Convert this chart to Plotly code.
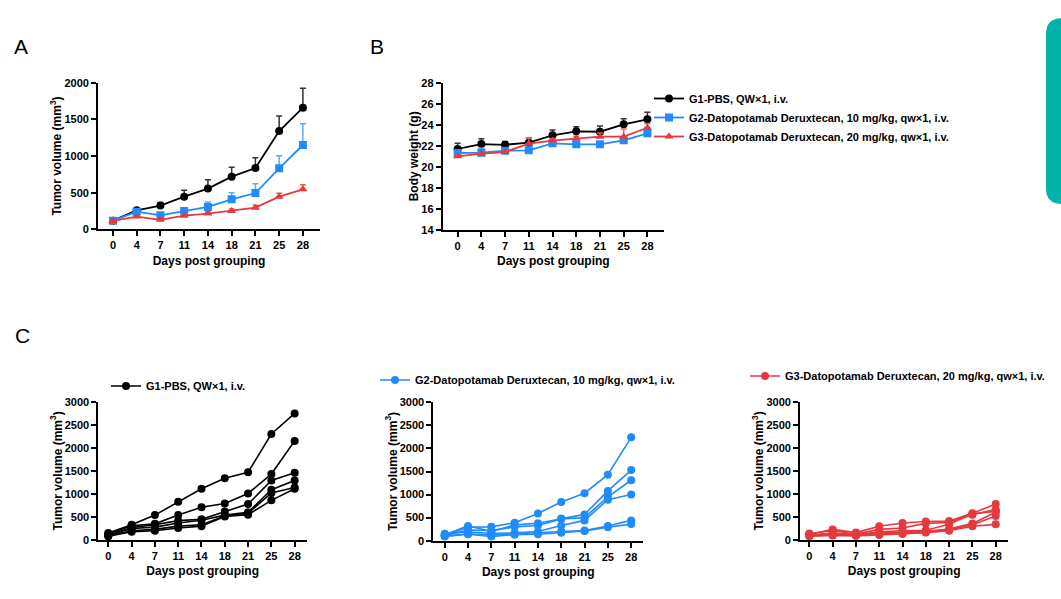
import plotly.graph_objects as go

W, H = 1061, 599

# ---------------- data ----------------
days = ["0", "4", "7", "11", "14", "18", "21", "25", "28"]

group_names = [
    "G1-PBS, QW×1, i.v.",
    "G2-Datopotamab Deruxtecan, 10 mg/kg, qw×1, i.v.",
    "G3-Datopotamab Deruxtecan, 20 mg/kg, qw×1, i.v.",
]

# Panel A: mean tumor volume and upper error (SEM)
tv_g1 = [118, 259, 323, 445, 555, 718, 836, 1341, 1659]
tv_g1_err = [10, 27, 41, 87, 122, 127, 141, 204, 264]
tv_g2 = [118, 241, 191, 250, 305, 409, 495, 832, 1150]
tv_g2_err = [8, 15, 14, 36, 68, 91, 128, 173, 291]
tv_g3 = [114, 173, 130, 186, 214, 250, 295, 445, 545]
tv_g3_err = [6, 12, 15, 18, 22, 28, 32, 46, 64]

# Panel B: mean body weight and upper error
bw_g1 = [21.70, 22.17, 22.10, 22.30, 23.00, 23.38, 23.34, 24.04, 24.52]
bw_g1_err = [0.54, 0.51, 0.30, 0.47, 0.50, 0.44, 0.54, 0.54, 0.66]
bw_g2 = [21.32, 21.35, 21.54, 21.57, 22.24, 22.14, 22.14, 22.52, 23.19]
bw_g2_err = [0.20, 0.41, 0.25, 0.20, 0.15, 0.15, 0.15, 0.15, 0.30]
bw_g3 = [21.00, 21.25, 21.41, 22.20, 22.50, 22.70, 22.87, 22.87, 23.72]
bw_g3_err = [0.15, 0.15, 0.20, 0.57, 0.20, 0.20, 0.35, 0.73, 0.40]

# Panel C: individual tumor volumes
c1_mice = [
    [150, 330, 540, 830, 1110, 1340, 1470, 2300, 2745],
    [130, 310, 350, 540, 710, 790, 1010, 1430, 2150],
    [100, 270, 330, 420, 450, 620, 780, 1290, 1460],
    [110, 250, 280, 370, 430, 540, 600, 1090, 1290],
    [90, 200, 230, 300, 330, 520, 580, 1020, 1140],
    [80, 180, 200, 260, 300, 510, 550, 860, 1110],
]
c2_mice = [
    [120, 290, 300, 390, 590, 840, 1030, 1430, 2240],
    [130, 320, 200, 340, 380, 480, 570, 1080, 1530],
    [110, 230, 220, 300, 330, 470, 500, 950, 1310],
    [150, 190, 160, 170, 200, 330, 440, 890, 1000],
    [100, 150, 120, 150, 170, 200, 220, 320, 440],
    [90, 140, 90, 130, 140, 170, 210, 290, 360],
]
c3_mice = [
    [120, 230, 160, 300, 370, 400, 410, 580, 780],
    [140, 200, 130, 230, 260, 360, 380, 550, 660],
    [110, 150, 120, 180, 200, 210, 340, 570, 620],
    [100, 130, 110, 150, 170, 190, 240, 360, 600],
    [90, 110, 100, 130, 150, 170, 220, 330, 520],
    [80, 100, 90, 110, 130, 160, 200, 300, 340],
]

tv_ticks = [0, 500, 1000, 1500, 2000]
bw_ticks = [14, 16, 18, 20, 22, 24, 26, 28]
c_ticks = [0, 500, 1000, 1500, 2000, 2500, 3000]

# ---------------- style ----------------
BLACK = "#000000"
BLUE = "#1f8bff"
RED = "#e5393e"
FONT = "Liberation Sans, Arial, sans-serif"


def px(x):
    return x / W


def py(y):
    return 1 - y / H


fig = go.Figure()

# Panel A
for name, y, e, col, ecol, sym in [
    (group_names[0], tv_g1, tv_g1_err, BLACK, "#333333", "circle"),
    (group_names[1], tv_g2, tv_g2_err, BLUE, "#5aaaff", "square"),
    (group_names[2], tv_g3, tv_g3_err, RED, "#ea5a5e", "triangle-up"),
]:
    fig.add_trace(go.Scatter(
        x=days, y=y, mode="lines+markers", name=name, showlegend=False,
        line=dict(color=col, width=1.8),
        marker=dict(color=col, symbol=sym, size=8),
        error_y=dict(type="data", symmetric=False, array=e,
                     arrayminus=[0] * len(e), color=ecol, thickness=1.5, width=3),
        xaxis="x", yaxis="y",
    ))

# Panel B
for name, y, e, col, ecol, sym in [
    (group_names[0], bw_g1, bw_g1_err, BLACK, "#333333", "circle"),
    (group_names[1], bw_g2, bw_g2_err, BLUE, "#5aaaff", "square"),
    (group_names[2], bw_g3, bw_g3_err, RED, "#ea5a5e", "triangle-up"),
]:
    fig.add_trace(go.Scatter(
        x=days, y=y, mode="lines+markers", name=name, showlegend=True,
        legend="legend",
        line=dict(color=col, width=1.8),
        marker=dict(color=col, symbol=sym, size=8),
        error_y=dict(type="data", symmetric=False, array=e,
                     arrayminus=[0] * len(e), color=ecol, thickness=1.5, width=3),
        xaxis="x2", yaxis="y2",
    ))

# Panel C
for mice, col, name, ax, leg in [
    (c1_mice, BLACK, group_names[0], ("x3", "y3"), "legend2"),
    (c2_mice, BLUE, group_names[1], ("x4", "y4"), "legend3"),
    (c3_mice, RED, group_names[2], ("x5", "y5"), "legend4"),
]:
    for i, m in enumerate(mice):
        fig.add_trace(go.Scatter(
            x=days, y=m, mode="lines+markers", name=name,
            showlegend=(i == 0), legend=leg, legendgroup=name,
            line=dict(color=col, width=1.6),
            marker=dict(color=col, symbol="circle", size=8),
            xaxis=ax[0], yaxis=ax[1],
        ))

tickfont = dict(family=FONT, size=11, color="black", weight="bold")
titlefont = dict(family=FONT, size=12, color="black", weight="bold")


def xax(domain, rng, anchor):
    return dict(
        domain=domain, type="category", categoryorder="array", categoryarray=days,
        range=rng, anchor=anchor, showgrid=False, zeroline=False, automargin=False,
        showline=True, linecolor="black", linewidth=1.8,
        ticks="outside", ticklen=5, tickwidth=1.5, tickcolor="black",
        tickfont=tickfont,
        title=dict(text="Days post grouping", font=titlefont, standoff=6),
    )


def yax(domain, rng, tickvals, anchor, title):
    return dict(
        domain=domain, range=rng, anchor=anchor, showgrid=False, zeroline=False,
        automargin=False,
        showline=True, linecolor="black", linewidth=1.8,
        ticks="outside", ticklen=5, tickwidth=1.5, tickcolor="black",
        tickvals=tickvals, tickfont=tickfont,
        title=dict(text=title, font=titlefont, standoff=0),
    )


TV = "Tumor volume (mm<sup>3</sup>)"
legfont = dict(family=FONT, size=11, color="black", weight="bold")

fig.update_layout(
    width=W, height=H, margin=dict(l=0, r=0, t=0, b=0, autoexpand=False),
    paper_bgcolor="white", plot_bgcolor="white",
    font=dict(family=FONT, color="black"),
    xaxis=xax([px(98), px(320)], [-0.63, 8.72], "y"),
    yaxis=yax([py(229.3), py(82.7)], [0, 2000], tv_ticks, "x", TV),
    xaxis2=xax([px(442.7), px(664)], [-0.63, 8.7], "y2"),
    yaxis2=yax([py(230), py(82.7)], [14, 28], bw_ticks, "x2", "Body weight (g)"),
    xaxis3=xax([px(98.3), px(307)], [-0.43, 8.53], "y3"),
    yaxis3=yax([py(540), py(401.7)], [0, 3000], c_ticks, "x3", TV),
    xaxis4=xax([px(433.3), px(643.3)], [-0.49, 8.52], "y4"),
    yaxis4=yax([py(540.7), py(402.3)], [0, 3000], c_ticks, "x4", TV),
    xaxis5=xax([px(800), px(1008.3)], [-0.4, 8.54], "y5"),
    yaxis5=yax([py(540), py(401.7)], [0, 3000], c_ticks, "x5", TV),
    legend=dict(x=px(649), y=py(84), xanchor="left", yanchor="top",
                font=legfont, bgcolor="rgba(0,0,0,0)"),
    legend2=dict(x=px(106), y=py(386), xanchor="left", yanchor="middle",
                 font=legfont, bgcolor="rgba(0,0,0,0)"),
    legend3=dict(x=px(375), y=py(380), xanchor="left", yanchor="middle",
                 font=legfont, bgcolor="rgba(0,0,0,0)"),
    legend4=dict(x=px(745), y=py(376), xanchor="left", yanchor="middle",
                 font=legfont, bgcolor="rgba(0,0,0,0)"),
)

# panel letters
for t, x, y in [("A", 12, 46), ("B", 368, 46), ("C", 13, 335)]:
    fig.add_annotation(text=t, x=px(x), y=py(y), xref="paper", yref="paper",
                       xanchor="left", yanchor="middle", showarrow=False,
                       font=dict(family=FONT, size=21, color="black"))

# teal decorative tab at right edge
r = 16
fig.add_shape(
    type="path", xref="paper", yref="paper",
    path=(f"M {px(1061)},{py(18.3)} L {px(1046 + r)},{py(18.3)} "
          f"Q {px(1046)},{py(18.3)} {px(1046)},{py(18.3 + r)} "
          f"L {px(1046)},{py(204 - r)} Q {px(1046)},{py(204)} {px(1046 + r)},{py(204)} "
          f"L {px(1061)},{py(204)} Z"),
    fillcolor="#00b2a8", line=dict(width=0),
)

fig.write_html(
    "out.html",
    config={"displayModeBar": False},
    post_script="document.body.style.margin='0';document.body.style.overflow='hidden';",
)
